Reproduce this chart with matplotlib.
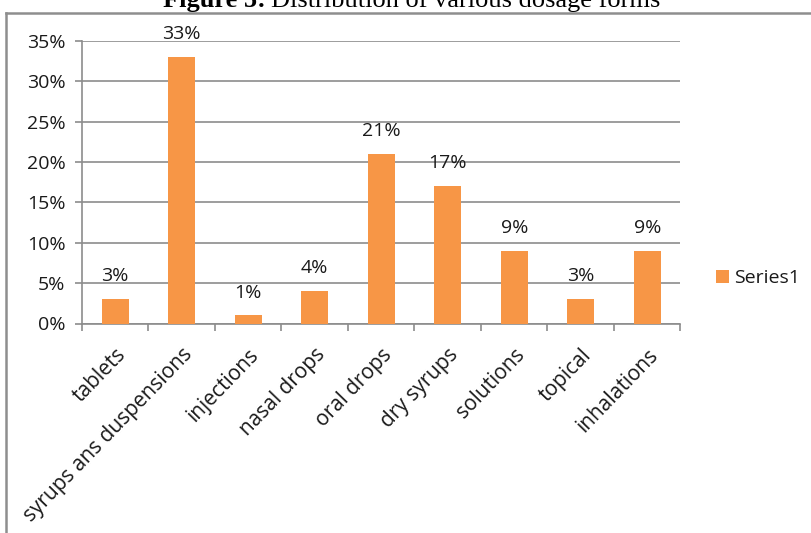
import matplotlib
matplotlib.use("Agg")
import matplotlib.pyplot as plt
from matplotlib.lines import Line2D
from matplotlib.ticker import FuncFormatter, FixedLocator

categories = ["tablets", "syrups ans duspensions", "injections", "nasal drops",
              "oral drops", "dry syrups", "solutions", "topical", "inhalations"]
values = [3, 33, 1, 4, 21, 17, 9, 3, 9]
series_name = "Series1"

plt.rcParams['font.family'] = ['Open Sans', 'DejaVu Sans']

W, H = 812, 533
fig = plt.figure(figsize=(W / 100, H / 100), dpi=100)

# gray border of the chart box
fig.add_artist(Line2D([6 / W, 6 / W], [0, 1 - 13 / H], color="#8e8e8e", lw=1.8,
                      transform=fig.transFigure))
fig.add_artist(Line2D([6 / W, 1], [1 - 13 / H, 1 - 13 / H], color="#8e8e8e", lw=1.8,
                      transform=fig.transFigure))

# title, partly cut at the top like the source
fig.text(266 / W, 1 - 6.5 / H, "Figure 5:", family="Liberation Serif", weight="bold",
         fontsize=19, ha="right", va="baseline")
fig.text(271 / W, 1 - 6.5 / H, "Distribution of various dosage forms",
         family="Liberation Serif", fontsize=19, ha="left", va="baseline")

ax = fig.add_axes([82 / W, 1 - 323.5 / H, (680.5 - 82) / W, (323.5 - 41) / H])
x = list(range(len(categories)))
bars = ax.bar(x, values, width=0.41, color="#F79646", label=series_name, zorder=3)

ax.set_xlim(-0.5, len(categories) - 0.5)
ax.set_ylim(0, 35)
ax.set_yticks(range(0, 36, 5))
ax.yaxis.set_major_formatter(FuncFormatter(lambda v, p: f"{int(v)}%"))
ax.grid(axis="y", color="#8c8c8c", lw=1.2, zorder=0)

ax.xaxis.set_major_locator(FixedLocator([i - 0.5 for i in range(len(categories) + 1)]))
ax.xaxis.set_major_formatter(FuncFormatter(lambda v, p: ""))
ax.xaxis.set_minor_locator(FixedLocator(x))
ax.set_xticklabels(categories, minor=True, rotation=46, ha="right",
                   rotation_mode="anchor", fontsize=15, color="#1a1a1a")
ax.tick_params(axis="x", which="minor", length=0, pad=15)
ax.tick_params(axis="x", which="major", length=5, width=1.2, color="#8c8c8c")
ax.tick_params(axis="y", length=5, width=1.2, color="#8c8c8c", labelsize=14,
               labelcolor="#1a1a1a", pad=7)

for s in ["top", "right"]:
    ax.spines[s].set_visible(False)
for s in ["left", "bottom"]:
    ax.spines[s].set_color("#8c8c8c")
    ax.spines[s].set_linewidth(1.2)

for b, v in zip(bars, values):
    ax.annotate(f"{v}%", (b.get_x() + b.get_width() / 2, v), xytext=(0, 10),
                textcoords="offset points", ha="center", va="bottom",
                fontsize=14, color="#1a1a1a")

ax.legend(loc="center left", bbox_to_anchor=(716 / W, 1 - 278 / H),
          bbox_transform=fig.transFigure, frameon=False, fontsize=14,
          handlelength=0.65, handleheight=0.65, handletextpad=0.3,
          labelcolor="#1a1a1a", borderpad=0, borderaxespad=0)

fig.savefig("out.png", dpi=100)
